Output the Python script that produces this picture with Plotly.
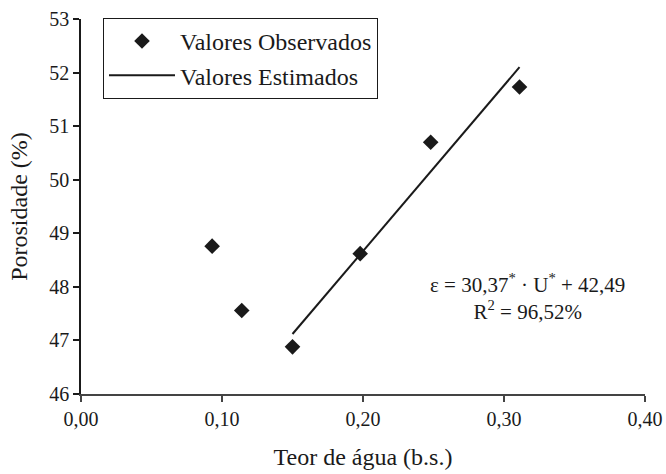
import plotly.graph_objects as go

# Observed data
teor_obs = [0.093, 0.114, 0.150, 0.198, 0.248, 0.311]
poros_obs = [48.76, 47.56, 46.88, 48.62, 50.70, 51.73]

# Estimated (fitted) line endpoints
teor_est = [0.150, 0.311]
poros_est = [47.12, 52.10]

x_ticks = [0.0, 0.1, 0.2, 0.3, 0.4]
y_ticks = [46, 47, 48, 49, 50, 51, 52, 53]

FONT = "'Liberation Serif', 'Times New Roman', Times, serif"
INK = "#1a1a1a"

fig = go.Figure()
fig.add_trace(go.Scatter(
    x=teor_obs, y=poros_obs, mode="markers", name="Valores Observados",
    marker=dict(symbol="diamond", size=12, color=INK, line=dict(width=0)),
))
fig.add_trace(go.Scatter(
    x=teor_est, y=poros_est, mode="lines", name="Valores Estimados",
    line=dict(color=INK, width=2),
))

fig.add_annotation(
    x=0.317, y=47.82, xref="x", yref="y",
    text="ε = 30,37<sup>*</sup> · U<sup>*</sup> + 42,49<br>R<sup>2</sup> = 96,52%",
    showarrow=False, align="center",
    font=dict(family=FONT, size=21, color=INK),
)

fig.update_layout(
    width=666, height=474,
    margin=dict(l=81, r=21, t=19, b=80, autoexpand=False),
    paper_bgcolor="white", plot_bgcolor="white",
    separators=", ",
    font=dict(family=FONT, size=20, color=INK),
    showlegend=True,
    legend=dict(
        x=0.039, y=1.003, xanchor="left", yanchor="top",
        bordercolor=INK, borderwidth=1, bgcolor="white",
        font=dict(family=FONT, size=24, color=INK),
        itemwidth=66, tracegroupgap=0,
    ),
    xaxis=dict(
        range=[0, 0.4], tickvals=x_ticks, tickformat=".2f",
        showgrid=False, zeroline=False, automargin=False,
        showline=True, linecolor="#444", linewidth=1.5,
        ticks="outside", ticklen=6, tickcolor="#444", tickwidth=1.5,
        tickfont=dict(family=FONT, size=20, color=INK),
        title=dict(text="Teor de água (b.s.)", font=dict(family=FONT, size=24, color=INK), standoff=19),
    ),
    yaxis=dict(
        range=[46, 53], tickvals=y_ticks,
        showgrid=False, zeroline=False, automargin=False,
        showline=True, linecolor=INK, linewidth=1.5,
        ticks="outside", ticklen=6, tickcolor=INK, tickwidth=1.5,
        tickfont=dict(family=FONT, size=20, color=INK),
        title=dict(text="Porosidade (%)", font=dict(family=FONT, size=24, color=INK), standoff=15),
    ),
)

fig.write_html(
    "out.html",
    config={"displayModeBar": False},
    post_script="document.body.style.margin='0';document.body.style.overflow='hidden';",
)
